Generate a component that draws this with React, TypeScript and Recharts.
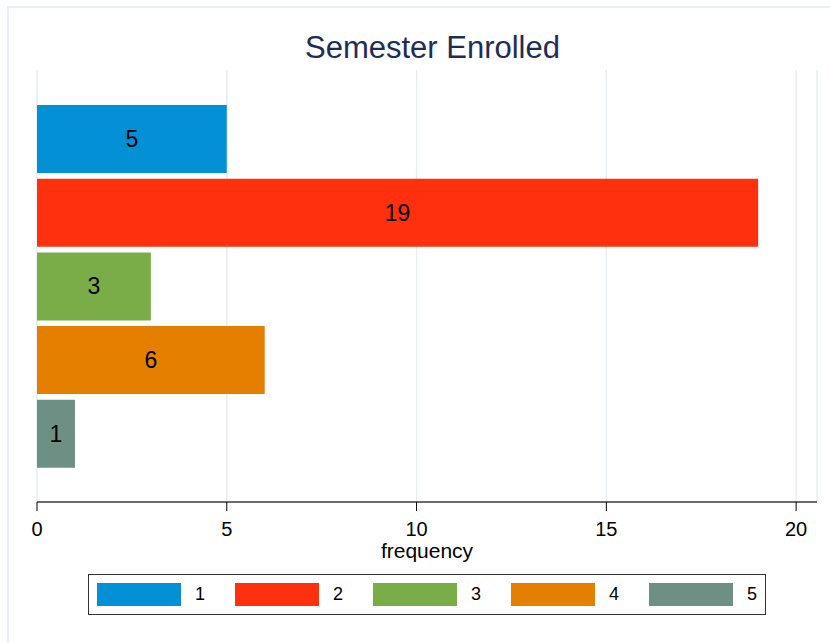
import { BarChart, Bar, Cell, XAxis, YAxis, CartesianGrid, LabelList, Legend } from "recharts"

const CATEGORIES = ["1", "2", "3", "4", "5"]
const FREQUENCY = [5, 19, 3, 6, 1]
const X_TICKS = [0, 5, 10, 15, 20]

const COLORS = ["#0490d5", "#ff300e", "#7aad47", "#e47f00", "#6e8f84"]

const data = CATEGORIES.map((name, i) => ({ name, value: FREQUENCY[i] }))

const FONT = '"Liberation Sans", Arial, Helvetica, sans-serif'

function LegendBox() {
    return (
        <div
            style={{
                position: "relative",
                width: 678,
                height: 41,
                boxSizing: "border-box",
                border: "1.5px solid #333",
                background: "#fff",
                fontFamily: FONT,
            }}
        >
            {CATEGORIES.map((label, i) => (
                <div
                    key={label}
                    style={{
                        position: "absolute",
                        left: 8 + i * 138,
                        top: 8,
                        height: 23,
                        display: "flex",
                        alignItems: "center",
                    }}
                >
                    <div style={{ width: 84, height: 23, background: COLORS[i] }} />
                    <span style={{ marginLeft: 14, fontSize: 18, color: "#000" }}>{label}</span>
                </div>
            ))}
        </div>
    )
}

// bar value label, drawn in the middle of each bar
function BarValue(props: any) {
    const { x, y, width, height, value } = props
    return (
        <text
            x={Number(x) + Number(width) / 2}
            y={Number(y) + Number(height) / 2}
            textAnchor="middle"
            dominantBaseline="central"
            fill="#000"
            fontSize={23}
            fontFamily={FONT}
        >
            {value}
        </text>
    )
}

export default function App() {
    return (
        <div
            style={{
                position: "fixed",
                left: 0,
                top: 0,
                width: 830,
                height: 643,
                overflow: "hidden",
                background: "#fff",
                fontFamily: FONT,
            }}
        >
            <div
                style={{
                    position: "absolute",
                    left: 7,
                    top: 6,
                    width: 900,
                    height: 700,
                    border: "2px solid #e9eff4",
                }}
            />
            <div
                style={{
                    position: "absolute",
                    left: 0,
                    top: 31.75,
                    width: 865,
                    textAlign: "center",
                    fontSize: 31,
                    lineHeight: "31px",
                    color: "#1f2d56",
                }}
            >
                Semester Enrolled
            </div>
            <div style={{ position: "absolute", left: 0, top: 0 }}>
                <BarChart
                    width={830}
                    height={643}
                    data={data}
                    layout="vertical"
                    margin={{ top: 70, right: 13, left: 37, bottom: 81 }}
                    barCategoryGap={3}
                >
                    <CartesianGrid horizontal={false} stroke="#e5edf2" strokeWidth={1.5} />
                    <XAxis
                        type="number"
                        domain={[0, 20.55]}
                        ticks={X_TICKS}
                        allowDataOverflow
                        height={60}
                        axisLine={{ stroke: "#6b6b6b", strokeWidth: 2 }}
                        tickLine={{ stroke: "#000", strokeWidth: 1 }}
                        tickSize={9}
                        tickMargin={11}
                        tick={{ fill: "#000", fontSize: 20 }}
                        label={{
                            value: "frequency",
                            position: "insideBottom",
                            offset: 4,
                            fill: "#000",
                            fontSize: 21,
                        }}
                    />
                    <YAxis
                        type="category"
                        dataKey="name"
                        width={0}
                        tick={false}
                        tickLine={false}
                        axisLine={{ stroke: "#000", strokeWidth: 1.3 }}
                        padding={{ top: 32, bottom: 31.5 }}
                    />
                    <Legend
                        layout="horizontal"
                        verticalAlign="middle"
                        wrapperStyle={{ left: 88, top: 574, width: 678, height: 41 }}
                        content={() => <LegendBox />}
                    />
                    <Bar dataKey="value" isAnimationActive={false}>
                        {data.map((_, index) => (
                            <Cell key={`cell-${index}`} fill={COLORS[index % COLORS.length]} />
                        ))}
                        <LabelList dataKey="value" content={BarValue} />
                    </Bar>
                </BarChart>
            </div>
        </div>
    )
}
